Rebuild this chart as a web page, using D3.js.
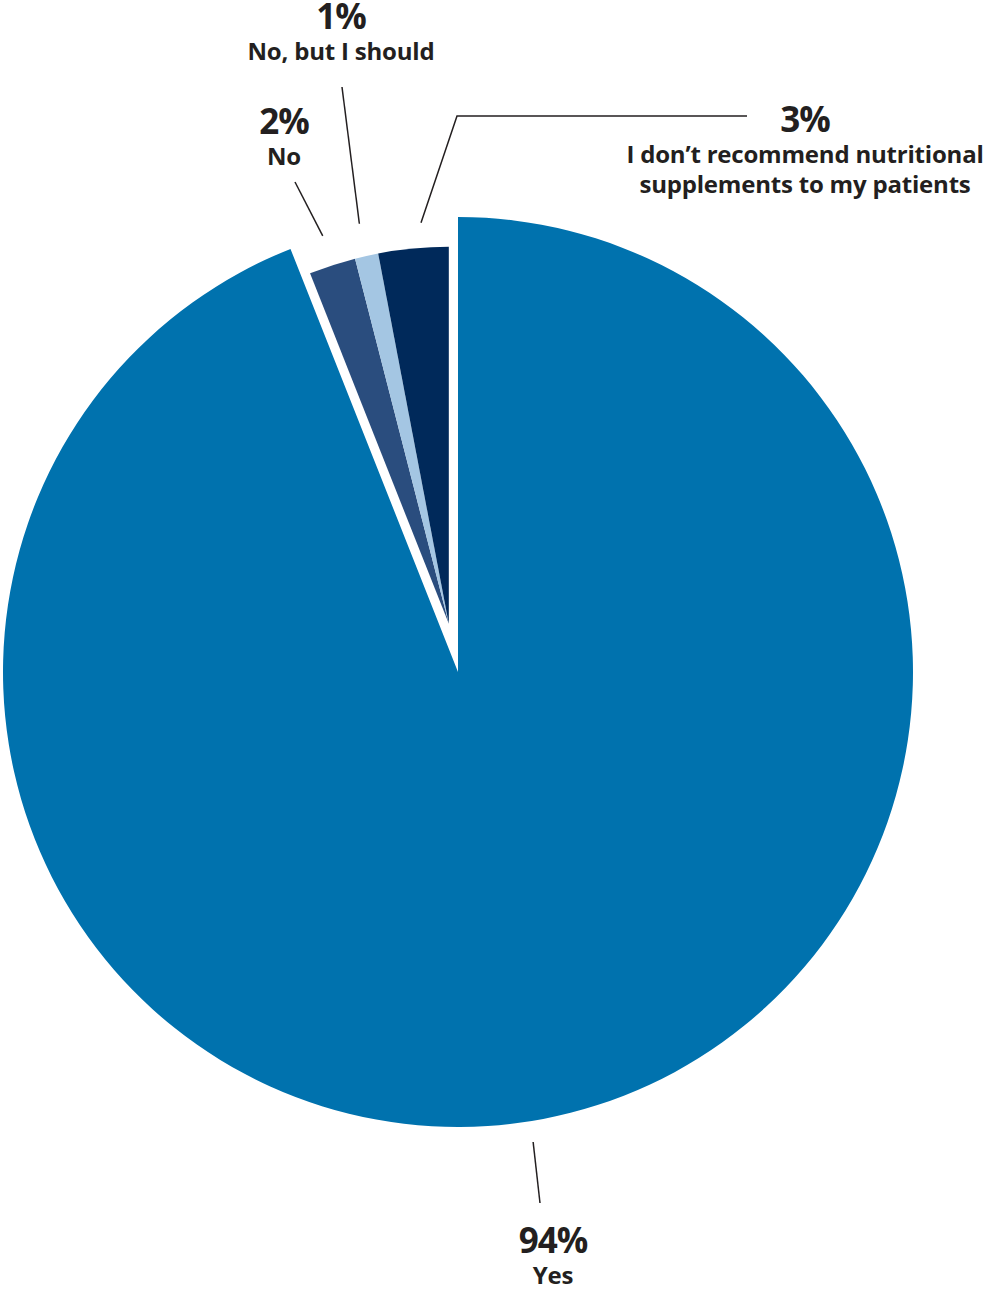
<!DOCTYPE html>
<html>
<head>
<meta charset="utf-8">
<script src="https://cdn.jsdelivr.net/npm/d3@7"></script>
<style>
  html, body { margin: 0; padding: 0; background: #ffffff; }
  svg { display: block; }
  text { font-family: "Open Sans", "Lato", sans-serif; font-weight: 700; fill: #231f20; }
</style>
</head>
<body>
<svg id="chart" width="986" height="1289"></svg>
<script>
// Survey answers, clockwise from 12 o'clock
const categories = ["Yes", "No", "No, but I should", "I don’t recommend nutritional supplements to my patients"];
const values = [94, 2, 1, 3];
const colors = ["#0072ae", "#2a4d7e", "#a4c6e3", "#00295a"];
// Label text lines (category names wrapped)
const labelLines = [
  ["Yes"],
  ["No"],
  ["No, but I should"],
  ["I don’t recommend nutritional", "supplements to my patients"]
];

const svg = d3.select("#chart");
const cx = 458, cy = 672;
const rMain = 455;      // radius of the large slice
const rSmall = 377;     // radius of the pulled-out group of small slices
const pullOut = 49;     // distance the small group is moved along its bisector

const pie = d3.pie().sort(null).value(d => d)(values);

// Small slices are shifted together along the bisector of their combined wedge
const smallStart = pie[1].startAngle, smallEnd = pie[3].endAngle;
const smallMid = (smallStart + smallEnd) / 2;
const ox = Math.sin(smallMid) * pullOut, oy = -Math.cos(smallMid) * pullOut;

const g = svg.append("g").attr("transform", `translate(${cx},${cy})`);

const arcMain = d3.arc().innerRadius(0).outerRadius(rMain);
const arcSmall = d3.arc().innerRadius(0).outerRadius(rSmall);

g.append("path")
  .attr("d", arcMain(pie[0]))
  .attr("fill", colors[0]);

const gs = g.append("g").attr("transform", `translate(${ox},${oy})`);
gs.selectAll("path")
  .data(pie.slice(1))
  .join("path")
  .attr("d", d => arcSmall(d))
  .attr("fill", (d, i) => colors[i + 1]);

// Leader lines: inner end sits just beyond each slice's outer edge, near its mid-angle
function polar(a, r, dx = 0, dy = 0) {
  return [cx + dx + Math.sin(a) * r, cy + dy - Math.cos(a) * r];
}
const mid = d => (d.startAngle + d.endAngle) / 2;

// label placement: outer leader points and text anchor
const leaders = [
  { inner: polar(mid(pie[0]) + 0.03, rMain + 21), pts: [[540, 1203]], text: [553, 1253] },
  { inner: polar(mid(pie[1]), rSmall + 31, ox, oy), pts: [[295, 182]], text: [284, 134] },
  { inner: polar(mid(pie[2]), rSmall + 33, ox, oy), pts: [[342, 87]], text: [341, 29] },
  { inner: polar(mid(pie[3]) + 0.025, rSmall + 25, ox, oy), pts: [[457, 116], [747, 116]], text: [805, 132] }
];

const line = d3.line();
leaders.forEach((L, i) => {
  svg.append("path")
    .attr("d", line([L.inner, ...L.pts]))
    .attr("fill", "none")
    .attr("stroke", "#231f20")
    .attr("stroke-width", 1.5);

  const t = svg.append("g").attr("transform", `translate(${L.text[0]},${L.text[1]})`);
  t.append("text")
    .attr("text-anchor", "middle")
    .attr("font-size", 35)
    .attr("letter-spacing", -1)
    .text(values[i] + "%");
  labelLines[i].forEach((s, j) => {
    t.append("text")
      .attr("text-anchor", "middle")
      .attr("y", 31 + j * 30)
      .attr("font-size", 24)
      .attr("letter-spacing", -0.2)
      .text(s);
  });
});
</script>
</body>
</html>
